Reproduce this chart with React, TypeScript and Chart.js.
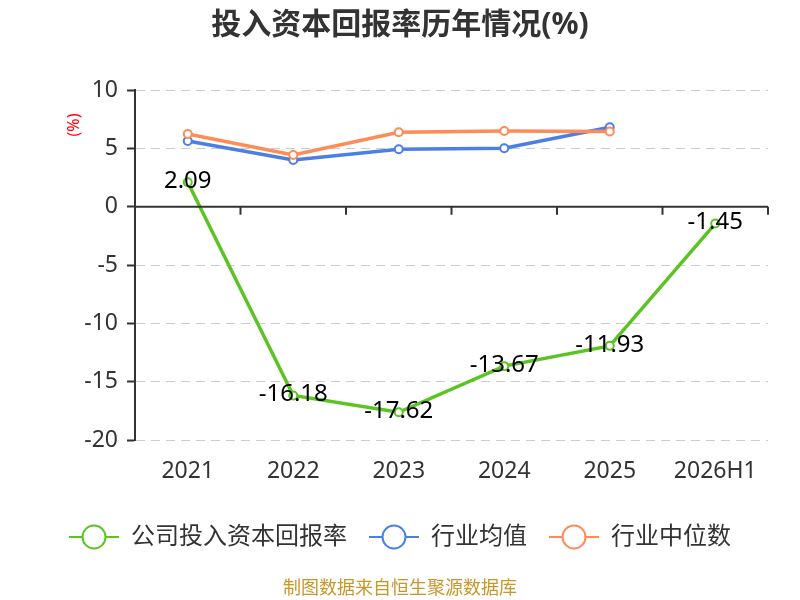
import { useEffect, useRef } from "react";
import { Chart, registerables } from "chart.js";
import type { Plugin } from "chart.js";

Chart.register(...registerables);

const years = ["2021", "2022", "2023", "2024", "2025", "2026H1"];
const companyRoic = [2.09, -16.18, -17.62, -13.67, -11.93, -1.45];
const industryAvg = [5.63, 4.0, 4.92, 5.0, 6.8, null];
const industryMedian = [6.23, 4.43, 6.38, 6.48, 6.45, null];
const yTicks = [10, 5, 0, -5, -10, -15, -20];

const FONT = "'Noto Sans', 'Noto Sans CJK SC', sans-serif";
const GREEN = "#5bc424";
const BLUE = "#4b7fe3";
const ORANGE = "#ff8b57";

function makeMarker(color: string) {
  const c = document.createElement("canvas");
  c.width = 50;
  c.height = 28;
  const g = c.getContext("2d")!;
  g.strokeStyle = color;
  g.lineWidth = 2;
  g.beginPath();
  g.moveTo(0, 14);
  g.lineTo(14, 14);
  g.moveTo(36, 14);
  g.lineTo(50, 14);
  g.stroke();
  g.beginPath();
  g.arc(25, 14, 11.5, 0, Math.PI * 2);
  g.fillStyle = "#fff";
  g.fill();
  g.stroke();
  return c;
}

// zero axis line with category ticks, value labels and the (%) unit
const extras: Plugin<"line"> = {
  id: "extras",
  afterDatasetsDraw(chart) {
    const { ctx, chartArea, scales } = chart;
    const x = scales.x;
    const y0 = scales.y.getPixelForValue(0);
    ctx.save();
    ctx.strokeStyle = "#333";
    ctx.lineWidth = 2;
    ctx.beginPath();
    ctx.moveTo(chartArea.left, y0);
    ctx.lineTo(chartArea.right, y0);
    const n = years.length;
    for (let i = 1; i <= n; i++) {
      const bx =
        i === n
          ? chartArea.right
          : (x.getPixelForValue(i - 1) + x.getPixelForValue(i)) / 2;
      ctx.moveTo(bx, y0);
      ctx.lineTo(bx, y0 + 8);
    }
    ctx.stroke();

    const meta = chart.getDatasetMeta(0);
    ctx.fillStyle = "#000";
    ctx.font = `24px ${FONT}`;
    ctx.textAlign = "center";
    ctx.textBaseline = "middle";
    meta.data.forEach((pt, i) => {
      ctx.fillText(companyRoic[i].toFixed(2), pt.x, pt.y - 1);
    });

    ctx.translate(74, 125);
    ctx.rotate(-Math.PI / 2);
    ctx.fillStyle = "#ff0000";
    ctx.font = `16px ${FONT}`;
    ctx.fillText("(%)", 0, 0);
    ctx.restore();
  },
};

export default function App() {
  const chartRef = useRef<HTMLCanvasElement>(null);
  const chartInstance = useRef<Chart | null>(null);

  useEffect(() => {
    document.body.style.margin = "0";
    if (!chartRef.current) return;
    if (chartInstance.current) chartInstance.current.destroy();
    const ctx = chartRef.current.getContext("2d");
    if (!ctx) return;

    const markers = [makeMarker(GREEN), makeMarker(BLUE), makeMarker(ORANGE)];
    const lineStyle = (color: string, order: number) => ({
      borderColor: color,
      backgroundColor: "#fff",
      borderWidth: 3.5,
      pointRadius: 4,
      pointBorderWidth: 2,
      pointBackgroundColor: "#fff",
      pointBorderColor: color,
      order,
    });

    chartInstance.current = new Chart(ctx, {
      type: "line",
      data: {
        labels: years,
        datasets: [
          { label: "公司投入资本回报率", data: companyRoic, ...lineStyle(GREEN, 0) },
          { label: "行业均值", data: industryAvg, ...lineStyle(BLUE, 2) },
          { label: "行业中位数", data: industryMedian, ...lineStyle(ORANGE, 1) },
        ],
      },
      options: {
        animation: false,
        responsive: true,
        maintainAspectRatio: false,
        layout: { padding: 0 },
        plugins: {
          title: {
            display: true,
            text: "投入资本回报率历年情况(%)",
            color: "#333",
            font: { size: 30, weight: "bold", family: FONT },
            padding: { top: 7, bottom: 47 },
          },
          subtitle: {
            display: true,
            position: "bottom",
            text: "制图数据来自恒生聚源数据库",
            color: "#c8962a",
            font: { size: 18, family: FONT },
            padding: { top: 19.4, bottom: 0 },
          },
          legend: {
            position: "bottom",
            labels: {
              usePointStyle: true,
              pointStyleWidth: 50,
              padding: 22,
              color: "#333",
              font: { size: 24, family: FONT },
              sort: (a, b) => (a.datasetIndex ?? 0) - (b.datasetIndex ?? 0),
              generateLabels: (chart) =>
                Chart.defaults.plugins.legend.labels
                  .generateLabels(chart)
                  .map((l) => ({ ...l, pointStyle: markers[l.datasetIndex ?? 0] })),
            },
          },
          tooltip: { enabled: false },
        },
        scales: {
          x: {
            offset: true,
            grid: { display: false },
            border: { display: false },
            ticks: { color: "#333", padding: 10, font: { size: 23, family: FONT } },
            afterFit: (s) => {
              s.height = 63;
            },
          },
          y: {
            min: -20,
            max: 10,
            afterBuildTicks: (s) => {
              s.ticks = yTicks.map((v) => ({ value: v }));
            },
            grid: {
              color: (c) => (c.tick && c.tick.value === 0 ? "rgba(0,0,0,0)" : "#cccccc"),
              lineWidth: 1,
              tickColor: "#333",
              tickLength: 8,
              tickWidth: 2,
            },
            border: { display: true, color: "#333", width: 2, dash: [9, 6] },
            ticks: { color: "#333", padding: 9, font: { size: 23, family: FONT } },
            afterFit: (s) => {
              s.width = 135;
            },
          },
          yRight: {
            position: "right",
            display: true,
            grid: { display: false },
            border: { display: false },
            ticks: { display: false },
            afterFit: (s) => {
              s.width = 32;
            },
          },
        },
      },
      plugins: [extras],
    });

    return () => {
      if (chartInstance.current) {
        chartInstance.current.destroy();
        chartInstance.current = null;
      }
    };
  }, []);

  return (
    <div style={{ width: 800, height: 600, position: "relative" }}>
      <canvas ref={chartRef} />
    </div>
  );
}
